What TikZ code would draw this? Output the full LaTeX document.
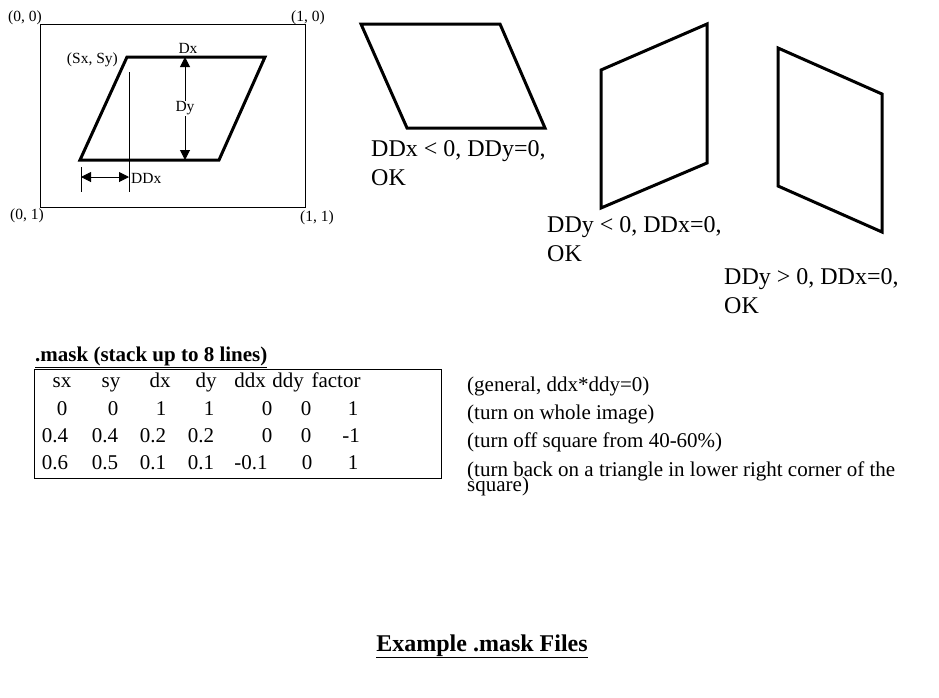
\documentclass[tikz,border=0pt]{standalone}
\usepackage{fontspec}
\setmainfont{Liberation Serif}
\usetikzlibrary{arrows.meta}
\tikzset{
  edge/.style={line width=3pt, line join=miter},
  small/.style={font=\fontsize{15.5}{18}\selectfont, inner sep=0pt},
  cond/.style={font=\fontsize{24}{29}\selectfont, inner sep=0pt, align=left, anchor=north west},
  note/.style={font=\fontsize{21}{16}\selectfont, inner sep=0pt, align=left, anchor=base west},
  cell/.style={font=\fontsize{21}{25}\selectfont, inner sep=0pt, anchor=base},
  dim/.style={line width=1pt, {Triangle[length=10pt,width=10pt]}-{Triangle[length=10pt,width=10pt]}},
}
\begin{document}
\begin{tikzpicture}[x=1pt,y=-1pt]
  \useasboundingbox (0,0) rectangle (939,697);

  % unit frame
  \draw[line width=1pt] (40,24) rectangle (305,207);
  \node[small] (c00) at (25,18) {(0, 0)};
  \node[small] (c10) at (308,18) {(1, 0)};
  \node[small] (c01) at (27,216) {(0, 1)};
  \node[small] (c11) at (317,218) {(1, 1)};

  \coordinate (sxy) at (127,57);
  \draw[edge] (80,160) -- (sxy) -- (265,57) -- (219,160) -- cycle;
  \node[small, anchor=east] (sxylbl) at (118,60) {(Sx, Sy)};
  \node[small] (dx) at (188,48) {Dx};

  \coordinate (dytop) at (185,57);
  \coordinate (dybot) at (185,160);
  \draw[dim] (dytop) -- (dybot)
      node[midway, small, fill=white, inner sep=1pt] (dy) {Dy};

  \draw[line width=1pt] (129,72) -- (129,192);
  \draw[line width=1pt] (81,167) -- (81,192);
  \coordinate (ddxl) at (81,177);
  \coordinate (ddxr) at (129,177);
  \draw[dim] (ddxl) -- (ddxr);
  \node[small, anchor=west] (ddx) at (131,178) {DDx};

  % the three cases
  \draw[edge] (361,24) -- (500,24) -- (545,128) -- (407,128) -- cycle;
  \node[cond] (case1) at (371,140) {DDx < 0, DDy=0,\\OK};
  \draw[edge] (601,70) -- (707,24) -- (707,163) -- (601,208) -- cycle;
  \node[cond] (case2) at (547,216) {DDy < 0, DDx=0,\\OK};
  \draw[edge] (778,48) -- (882,94) -- (882,232) -- (778,186) -- cycle;
  \node[cond] (case3) at (724,268) {DDy > 0, DDx=0,\\OK};

  % table
  \node[font=\fontsize{21}{25}\selectfont\bfseries, inner sep=0pt, anchor=base west]
      (mask) at (35,361) {\underline{.mask (stack up to 8 lines)}};
  \draw[line width=1pt] (34,369) rectangle (441,478);
  \foreach \x/\v [count=\c] in {62/sx,111/sy,160/dx,206/dy,250/ddx,288/ddy,336/factor}
    \node[cell] (hd\c) at (\x,387) {\v};
  \foreach \x/\v [count=\c] in {62/0,113/0,161/1,209/1,267/0,306/0,353/1}
    \node[cell] (ra\c) at (\x,415) {\v};
  \foreach \x/\v [count=\c] in {55/0.4,105/0.4,153/0.2,201/0.2,267/0,306/0,351/-1}
    \node[cell] (rb\c) at (\x,442) {\v};
  \foreach \x/\v [count=\c] in {55/0.6,105/0.5,153/0.1,201/0.1,251/-0.1,307/0,353/1}
    \node[cell] (rc\c) at (\x,469) {\v};

  \node[note] (n1) at (467,391) {(general, ddx*ddy=0)};
  \node[note] (n2) at (467,419) {(turn on whole image)};
  \node[note] (n3) at (467,447) {(turn off square from 40-60\%)};
  \node[note] (n4) at (467,491) {(turn back on a triangle in lower right corner of the\\[-6pt]square)};

  \node[font=\fontsize{24}{28}\selectfont\bfseries, inner sep=0pt, anchor=base]
      (title) at (482,651) {\underline{Example .mask Files}};
\end{tikzpicture}
\end{document}
